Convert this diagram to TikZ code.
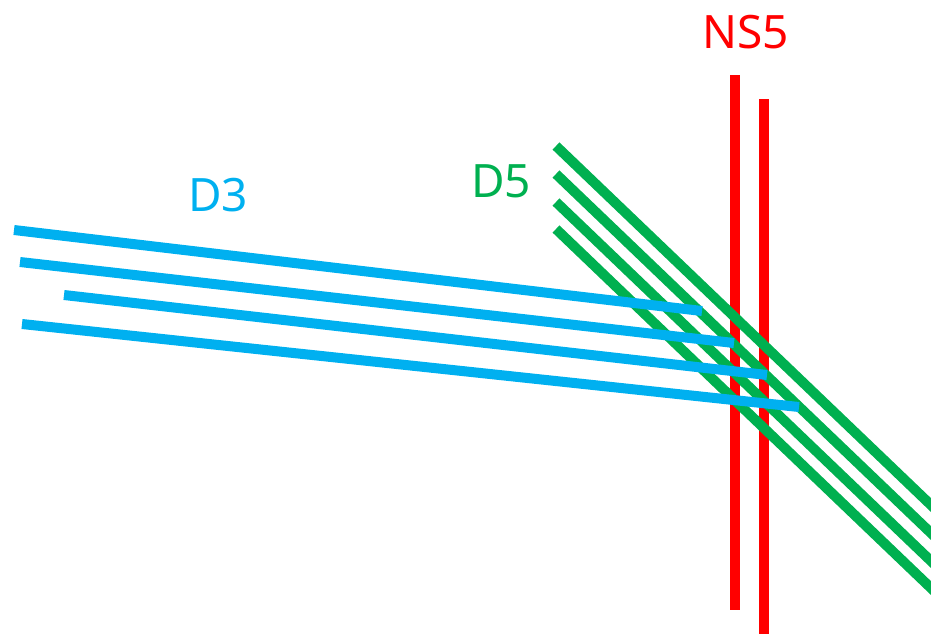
\documentclass[tikz,border=0pt]{standalone}
\usepackage{fontspec}
\setmainfont{Noto Sans}
\usetikzlibrary{calc}
\definecolor{dblue}{HTML}{00B0F0}
\definecolor{dgreen}{HTML}{00B050}
\definecolor{nsred}{HTML}{FF0000}
\begin{document}
\begin{tikzpicture}[x=1pt,y=-1pt,
  brane/.style={line width=10pt,line cap=butt},
  lbl/.style={font=\fontsize{46}{50}\selectfont,inner sep=0pt,anchor=center}]
\useasboundingbox (0,0) rectangle (931,633);
\clip (0,0) rectangle (931,633);
% NS5 branes
\coordinate (n1a) at (735,75);  \coordinate (n1b) at (735,610);
\coordinate (n2a) at (764,99);  \coordinate (n2b) at (764,640);
\draw[brane,nsred] (n1a) -- (n1b);
\draw[brane,nsred] (n2a) -- (n2b);
% D5 branes
\foreach \i/\y in {1/146,2/174,3/202,4/229}{
  \coordinate (g\i a) at (556,\y);
  \coordinate (g\i b) at ($(556,\y)+(400,383)$);
  \draw[brane,dgreen] (g\i a) -- (g\i b);
}
% D3 branes
\coordinate (b1a) at (14,230);  \coordinate (b1b) at (702,311);
\coordinate (b2a) at (20,262);  \coordinate (b2b) at (734,343);
\coordinate (b3a) at (64,295);  \coordinate (b3b) at (767,375);
\coordinate (b4a) at (22,324);  \coordinate (b4b) at (799,407);
\foreach \i in {1,...,4}{\draw[brane,dblue] (b\i a) -- (b\i b);}
% labels
\node[lbl,text=dblue] (d3) at (218,195) {D3};
\node[lbl,text=dgreen] (d5) at (501,181) {D5};
\node[lbl,text=nsred] (ns5) at (746,32) {NS5};
\end{tikzpicture}
\end{document}
